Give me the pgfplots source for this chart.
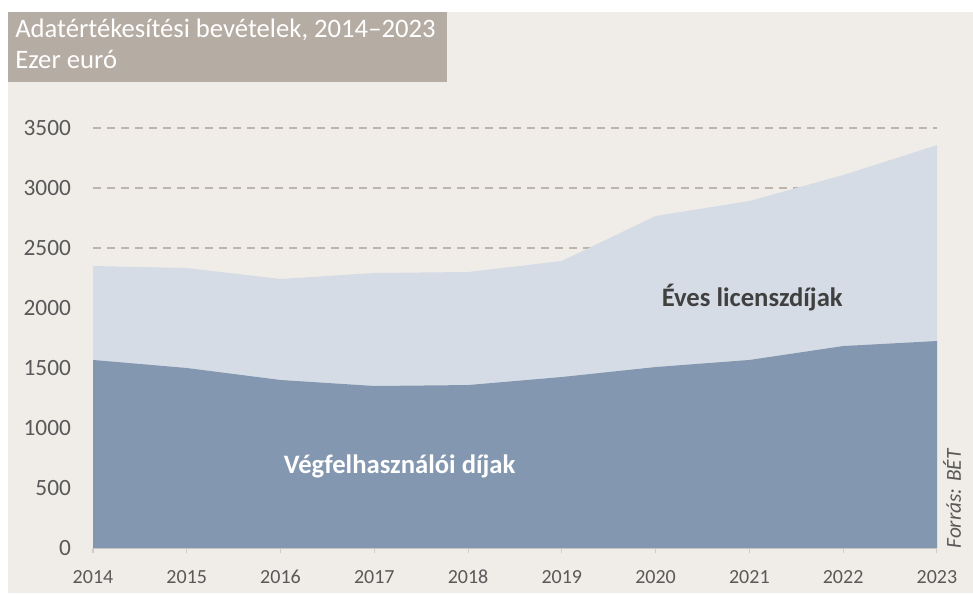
\documentclass[border=0pt]{standalone}
\usepackage{pgfplots}
\pgfplotsset{compat=1.18}
\usepackage{fontspec}
\setmainfont{Carlito}
\definecolor{bgbeige}{HTML}{F0EDE8}
\definecolor{titlebox}{HTML}{B5ACA3}
\definecolor{gridc}{HTML}{BDB5AC}
\definecolor{lowc}{HTML}{8497B0}
\definecolor{upc}{HTML}{D6DCE5}
\definecolor{txtc}{HTML}{595959}
\definecolor{lblc}{HTML}{404040}
\definecolor{axc}{HTML}{D0CCC6}
\begin{document}
\begin{tikzpicture}
\fill[white] (0pt,0pt) rectangle (729.75pt,-447pt);
\fill[bgbeige] (6pt,-9pt) rectangle (729.75pt,-444.75pt);
\fill[titlebox] (6pt,-9pt) rectangle (335.25pt,-61.5pt);
\node[anchor=base west, inner sep=0pt, text=white, font=\fontsize{20}{24}\selectfont] at (11.25pt,-27.75pt) {Adatértékesítési bevételek, 2014–2023};
\node[anchor=base west, inner sep=0pt, text=white, font=\fontsize{20}{24}\selectfont] at (11.25pt,-51pt) {Ezer euró};
\begin{axis}[
  at={(69.75pt,-411pt)}, anchor=south west,
  scale only axis, width=633pt, height=315pt,
  xmin=2014, xmax=2023, ymin=0, ymax=3500,
  xtick={2014,...,2023}, ytick={0,500,...,3500},
  /pgf/number format/1000 sep={},
  /pgf/number format/assume math mode=true,
  axis x line*=bottom, axis y line*=left,
  x axis line style={draw=axc, line width=0.8pt, -},
  y axis line style={draw=none},
  xtick style={draw=axc, line width=0.8pt},
  ytick style={draw=none},
  major tick length=4pt,
  xtick align=outside,
  ymajorgrids, grid style={draw=gridc, line width=1.1pt, dash pattern=on 6pt off 4.5pt},
  ticklabel style={text=txtc},
  xticklabel style={font=\fontsize{15}{18}\selectfont, anchor=north, text height=10pt, text depth=0pt, yshift=-9pt},
  yticklabel style={font=\fontsize{17.5}{20}\selectfont, anchor=east, xshift=-13pt},
  clip=false,
]
\addplot[draw=none, fill=upc] coordinates {
(2014,2350) (2015,2333) (2016,2242) (2017,2292) (2018,2300)
(2019,2392) (2020,2767) (2021,2892) (2022,3108) (2023,3358)} \closedcycle;
\addplot[draw=none, fill=lowc] coordinates {
(2014,1567) (2015,1500) (2016,1400) (2017,1350) (2018,1358)
(2019,1425) (2020,1508) (2021,1567) (2022,1683) (2023,1725)} \closedcycle;
\node[font=\bfseries\fontsize{20}{24}\selectfont, text=lblc] at (axis cs:2021.03,2083) {Éves licenszdíjak};
\node[font=\bfseries\fontsize{20}{24}\selectfont, text=white] at (axis cs:2017.27,683) {Végfelhasználói díjak};
\end{axis}
\node[rotate=90, font=\itshape\fontsize{16}{19}\selectfont, text=txtc] at (714pt,-374.25pt) {Forrás: BÉT};
\end{tikzpicture}
\end{document}
